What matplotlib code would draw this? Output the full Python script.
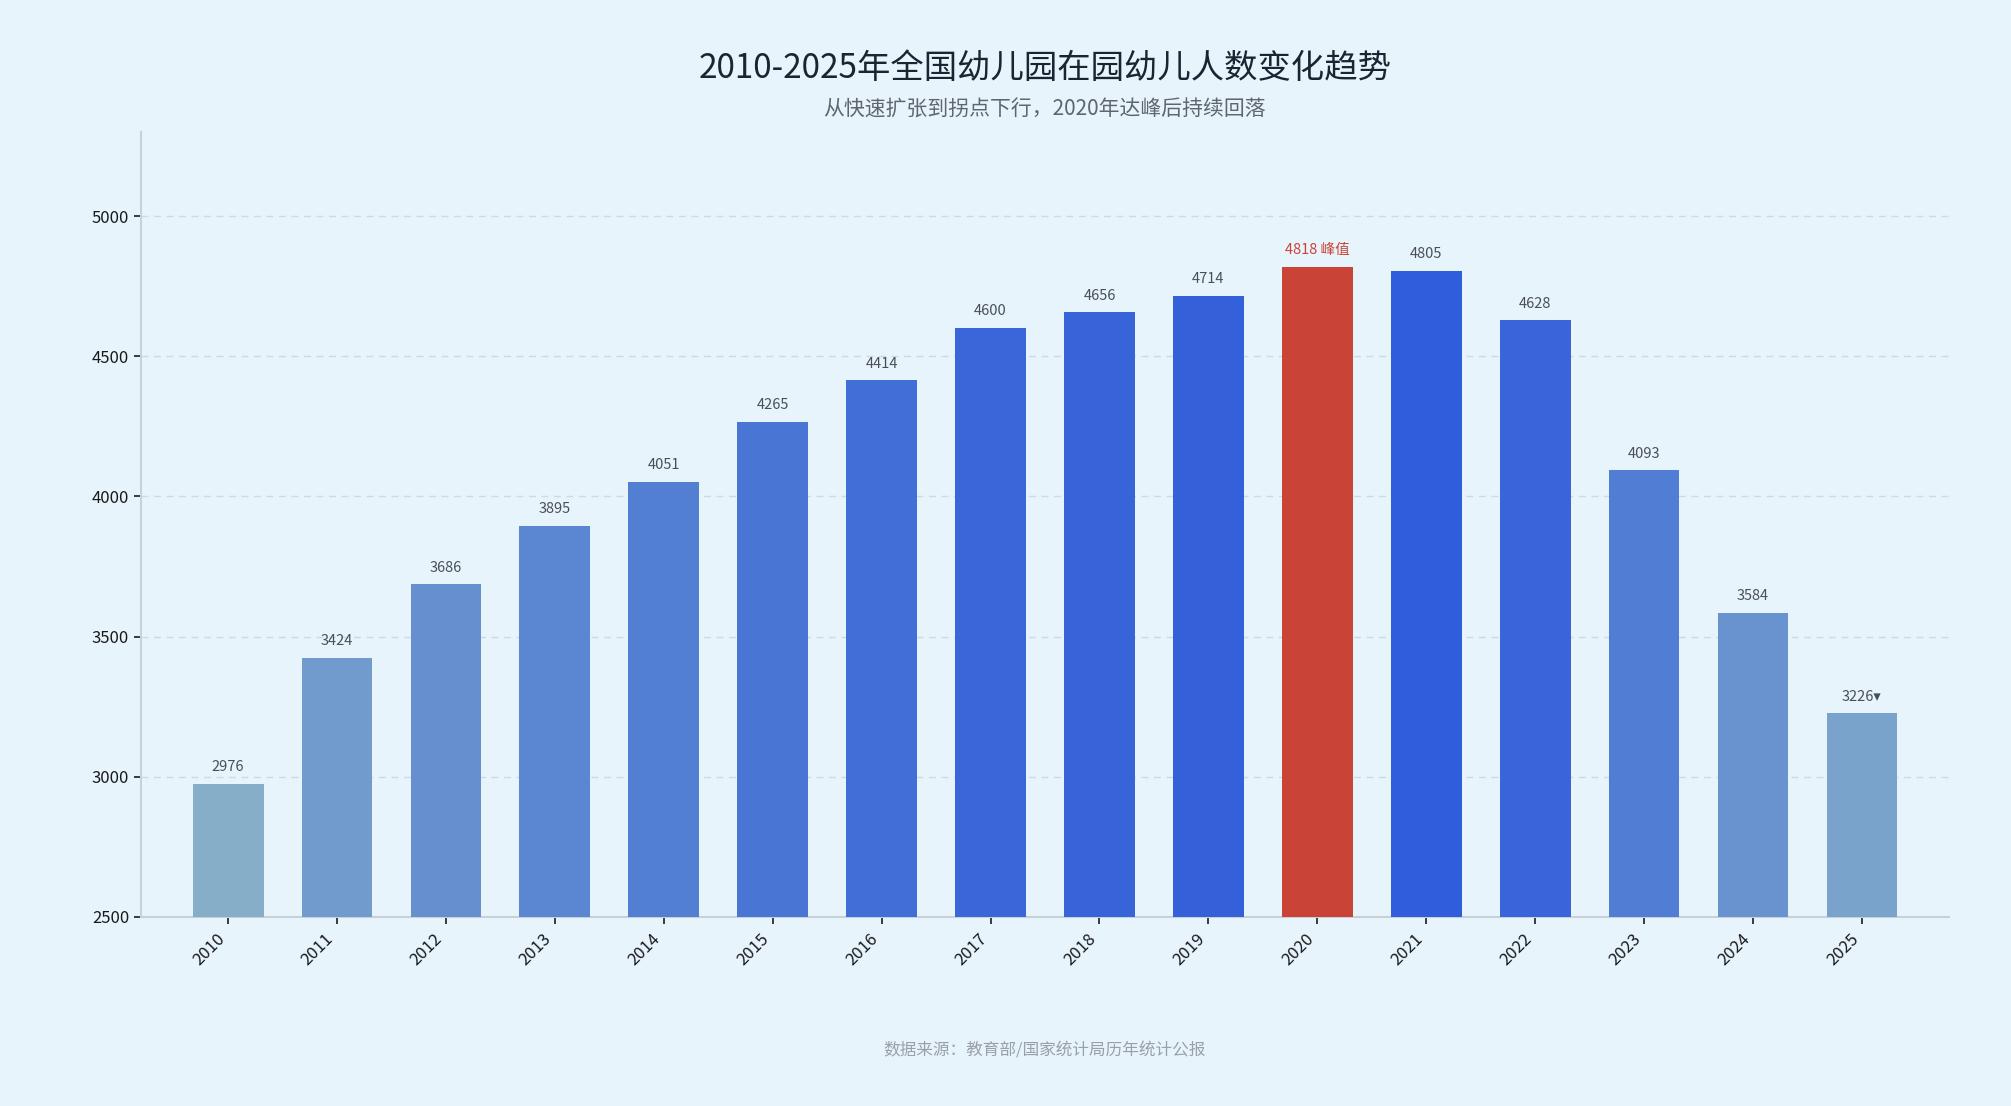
import matplotlib.pyplot as plt
from matplotlib.colors import LinearSegmentedColormap

plt.rcParams['font.family'] = ['Noto Sans CJK SC', 'DejaVu Sans']

years = [str(y) for y in range(2010, 2026)]
kids = [2976, 3424, 3686, 3895, 4051, 4265, 4414, 4600,
        4656, 4714, 4818, 4805, 4628, 4093, 3584, 3226]
peak_year = "2020"
last_year = "2025"

title = "2010-2025年全国幼儿园在园幼儿人数变化趋势"
subtitle = "从快速扩张到拐点下行，2020年达峰后持续回落"
source = "数据来源：教育部/国家统计局历年统计公报"

bg = '#E8F4FC'
peak_color = '#C94436'
cmap = LinearSegmentedColormap.from_list('kids', ['#86AEC8', '#2F5DDB'])

fig = plt.figure(figsize=(20.11, 11.06), dpi=100, facecolor=bg)
ax = fig.add_axes([0.0701, 0.1709, 0.8991, 0.7098], facecolor=bg)

lo, hi = min(kids), max(kids)
colors = []
for y, v in zip(years, kids):
    if y == peak_year:
        colors.append(peak_color)
    else:
        colors.append(cmap((v - lo) / (hi - lo)))

x = range(len(years))
ax.bar(x, kids, width=0.65, color=colors, zorder=3)

for i, (y, v) in enumerate(zip(years, kids)):
    if y == peak_year:
        txt, c = f"{v} 峰值", peak_color
    elif y == last_year:
        txt, c = f"{v}▾", '#4a4f57'
    else:
        txt, c = str(v), '#4a4f57'
    ax.annotate(txt, (i, v), xytext=(0, 7), textcoords='offset points',
                ha='center', va='bottom', fontsize=10.5, color=c)

ax.set_xlim(-0.8, len(years) - 0.2)
ax.set_ylim(2500, hi * 1.1)
ax.set_yticks([2500, 3000, 3500, 4000, 4500, 5000])
ax.set_xticks(list(x))
ax.set_xticklabels(years, rotation=45, ha='right')
ax.tick_params(axis='both', labelsize=12, colors='#1a1a1a', length=5, width=1.2)
ax.tick_params(axis='x', pad=5)

ax.yaxis.grid(True, linestyle=(0, (5, 4)), color='#CCDAE6', linewidth=1, zorder=0)
for s in ['top', 'right']:
    ax.spines[s].set_visible(False)
for s in ['left', 'bottom']:
    ax.spines[s].set_color('#C8D0D8')
    ax.spines[s].set_linewidth(1.5)

fig.text(0.5196, 0.938, title, ha='center', va='center', fontsize=24, color='#1b2433')
fig.text(0.5196, 0.901, subtitle, ha='center', va='center', fontsize=15, color='#5f6670')
fig.text(0.5196, 0.051, source, ha='center', va='center', fontsize=12, color='#9aa0a8')

fig.savefig('out.png', dpi=100, facecolor=bg)
